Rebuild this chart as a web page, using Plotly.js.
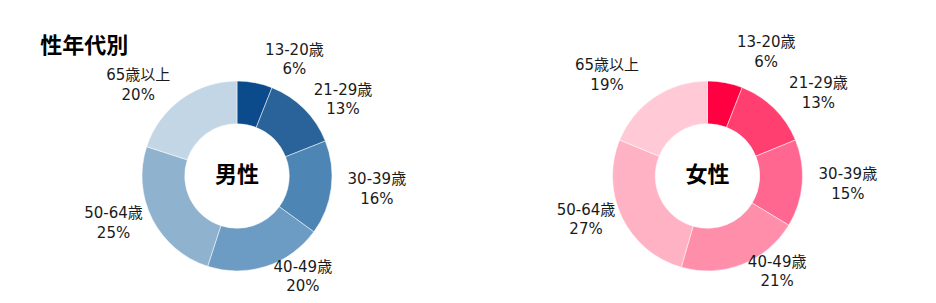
<!DOCTYPE html>
<html>
<head>
<meta charset="utf-8">
<script src="https://cdn.plot.ly/plotly-3.0.1.min.js"></script>
<style>html,body{margin:0;padding:0;background:#fff;}#chart{width:936px;height:303px;}</style>
</head>
<body>
<div id="chart"></div>
<script>
const ageGroups = ['13-20歳', '21-29歳', '30-39歳', '40-49歳', '50-64歳', '65歳以上'];
const maleShare = [6, 13, 16, 20, 25, 20];
const femaleShare = [6, 13, 15, 21, 27, 19];
const maleColors = ['#0b4a8b', '#2a6399', '#4d85b4', '#6c9bc3', '#8fb2cf', '#c3d6e6'];
const femaleColors = ['#ff0040', '#ff3f70', '#ff6690', '#ff8eaa', '#ffb2c4', '#ffcad6'];
const chartTitle = '性年代別';
const maleTitle = '男性';
const femaleTitle = '女性';

const FONT = '"DejaVu Sans", "Noto Sans CJK JP", sans-serif';
const CJK = '"Noto Sans CJK JP", sans-serif';
const W = 936, H = 303;

function dom(cx, cyTop, r) {
  const cy = H - cyTop;
  return {x: [(cx - r) / W, (cx + r) / W], y: [(cy - r) / H, (cy + r) / H]};
}

function donut(values, colors, title, cx) {
  return {
    type: 'pie',
    labels: ageGroups,
    values: values,
    sort: false,
    direction: 'clockwise',
    rotation: 0,
    hole: 0.55,
    domain: dom(cx, 176, 95),
    marker: {colors: colors, line: {color: '#ffffff', width: 0.5}},
    textinfo: 'none',
    title: {text: '<b>' + title + '</b>', position: 'middle center', font: {family: CJK, size: 22, color: '#000'}},
    showlegend: false
  };
}

// invisible ring that only carries the outside labels (label distance set per slice with pull)
function labelRing(values, cx, baseR, pulls) {
  const maxPull = Math.max.apply(null, pulls);
  return {
    type: 'pie',
    labels: ageGroups,
    values: values,
    sort: false,
    direction: 'clockwise',
    rotation: 0,
    hole: 0.95,
    pull: pulls,
    domain: dom(cx, 176, baseR * (1 + maxPull)),
    marker: {colors: values.map(() => 'rgba(0,0,0,0)'), line: {width: 0}},
    textposition: 'outside',
    texttemplate: '%{label}<br>%{value}%',
    outsidetextfont: {family: FONT, size: 15, color: '#1a1a1a'},
    textfont: {family: FONT, size: 15, color: '#1a1a1a'},
    showlegend: false
  };
}

const data = [
  donut(maleShare, maleColors, maleTitle, 237),
  labelRing(maleShare, 237, 80, [0.25, 0.19, 0.275, 0.1, 0.19, 0.22]),
  donut(femaleShare, femaleColors, femaleTitle, 707.5),
  labelRing(femaleShare, 707.5, 75, [0.44, 0.373, 0.36, 0.133, 0.227, 0.413])
];

const layout = {
  width: W,
  height: H,
  margin: {l: 0, r: 0, t: 0, b: 0},
  paper_bgcolor: '#ffffff',
  plot_bgcolor: '#ffffff',
  font: {family: FONT},
  title: {
    text: '<b>' + chartTitle + '</b>',
    font: {family: CJK, size: 22, color: '#000'},
    x: 0.043, xanchor: 'left', xref: 'paper',
    y: 1 - 45 / H, yanchor: 'middle', yref: 'container'
  },
  showlegend: false
};

Plotly.newPlot('chart', data, layout, {displayModeBar: false, staticPlot: true});
</script>
</body>
</html>
